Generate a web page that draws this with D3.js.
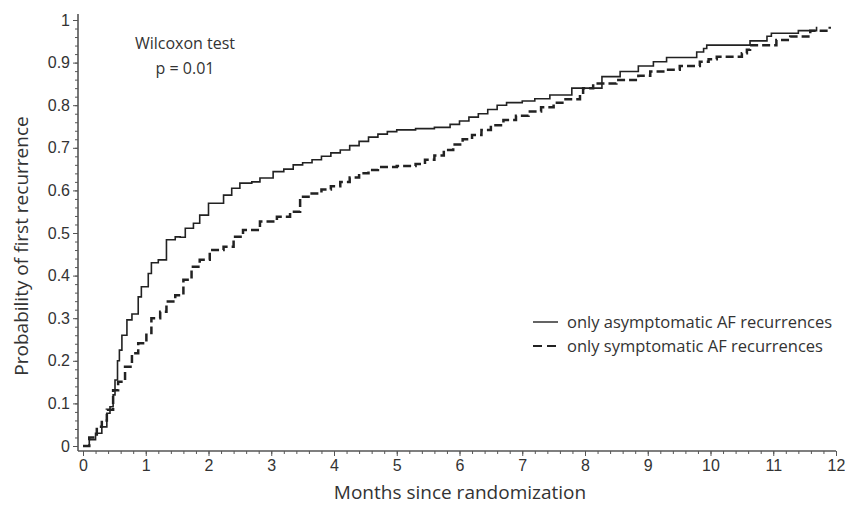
<!DOCTYPE html>
<html>
<head>
<meta charset="utf-8">
<script src="https://cdn.jsdelivr.net/npm/d3@7"></script>
<style>
  body { margin: 0; background: #fff; }
  svg { font-family: "Open Sans", "Noto Sans", sans-serif; }
  .axis text { font-size: 16px; fill: #333; }
  .axis path, .axis line { stroke: #555; }
</style>
</head>
<body>
<svg width="845" height="509"></svg>
<script>
// months since randomization / cumulative probability
var asymMonths = [0, 0.1, 0.2, 0.3, 0.38, 0.43, 0.48, 0.51, 0.55, 0.58, 0.62, 0.7, 0.78, 0.88, 0.93, 1.04, 1.09, 1.2, 1.33, 1.47, 1.55, 1.63, 1.76, 1.86, 2.0, 2.13, 2.24, 2.37, 2.5, 2.69, 2.82, 3.03, 3.2, 3.35, 3.5, 3.65, 3.8, 3.95, 4.1, 4.25, 4.4, 4.55, 4.7, 4.85, 5.0, 5.3, 5.6, 5.85, 6.0, 6.15, 6.3, 6.45, 6.6, 6.75, 7.0, 7.2, 7.44, 7.79, 8.27, 8.56, 8.85, 9.09, 9.3, 9.78, 9.89, 9.94, 10.63, 10.9, 10.97, 11.4, 11.69];
var asymProb   = [0, 0.015, 0.03, 0.045, 0.077, 0.092, 0.12, 0.155, 0.2, 0.225, 0.26, 0.296, 0.31, 0.35, 0.374, 0.405, 0.43, 0.437, 0.484, 0.491, 0.49, 0.511, 0.523, 0.542, 0.57, 0.57, 0.589, 0.605, 0.617, 0.62, 0.629, 0.644, 0.65, 0.66, 0.665, 0.672, 0.68, 0.688, 0.695, 0.705, 0.715, 0.725, 0.732, 0.738, 0.742, 0.745, 0.748, 0.755, 0.763, 0.772, 0.78, 0.79, 0.8, 0.806, 0.81, 0.815, 0.824, 0.84, 0.867, 0.879, 0.892, 0.902, 0.912, 0.925, 0.933, 0.941, 0.951, 0.962, 0.969, 0.975, 0.984];

var symMonths = [0, 0.1, 0.22, 0.3, 0.38, 0.48, 0.56, 0.67, 0.78, 0.88, 1.01, 1.09, 1.23, 1.33, 1.47, 1.6, 1.73, 1.86, 2.02, 2.24, 2.4, 2.55, 2.82, 3.09, 3.3, 3.46, 3.62, 3.8, 3.95, 4.1, 4.25, 4.4, 4.55, 4.7, 5.0, 5.3, 5.45, 5.6, 5.75, 5.9, 6.05, 6.2, 6.35, 6.5, 6.7, 6.9, 7.1, 7.3, 7.5, 7.66, 7.92, 7.97, 8.13, 8.5, 8.85, 9.04, 9.3, 9.51, 9.83, 9.97, 10.1, 10.5, 10.58, 10.63, 11.05, 11.27, 11.59, 11.9];
var symProb   = [0, 0.02, 0.045, 0.06, 0.085, 0.131, 0.151, 0.186, 0.218, 0.241, 0.265, 0.3, 0.315, 0.339, 0.354, 0.39, 0.421, 0.437, 0.46, 0.468, 0.491, 0.507, 0.527, 0.538, 0.55, 0.585, 0.593, 0.602, 0.61, 0.62, 0.63, 0.64, 0.648, 0.655, 0.657, 0.662, 0.672, 0.682, 0.695, 0.708, 0.72, 0.73, 0.742, 0.753, 0.765, 0.775, 0.785, 0.795, 0.806, 0.814, 0.824, 0.84, 0.851, 0.859, 0.869, 0.879, 0.883, 0.892, 0.902, 0.908, 0.914, 0.922, 0.93, 0.941, 0.953, 0.961, 0.975, 0.984];

var xTicks = d3.range(0, 13, 1);
var yTicks = [0, 0.1, 0.2, 0.3, 0.4, 0.5, 0.6, 0.7, 0.8, 0.9, 1];
var legendLabels = ['only asymptomatic AF recurrences', 'only symptomatic AF recurrences'];

var svg = d3.select('svg');

var x = d3.scaleLinear().domain([0, 12]).range([83, 836]),
    y = d3.scaleLinear().domain([0, 1]).range([446, 20]);

var axisY0 = 451, axisX0 = 78;

// minor ticks
svg.append('g')
  .attr('class', 'axis')
  .attr('transform', 'translate(0,' + axisY0 + ')')
  .call(d3.axisBottom(x).tickValues(d3.range(0, 12.01, 0.2)).tickSize(3).tickFormat(''))
  .select('.domain').remove();

svg.append('g')
  .attr('class', 'axis')
  .attr('transform', 'translate(' + axisX0 + ',0)')
  .call(d3.axisLeft(y).tickValues(d3.range(0, 1.001, 0.02)).tickSize(3).tickFormat(''))
  .select('.domain').remove();

// major ticks + labels
var gx = svg.append('g')
  .attr('class', 'axis')
  .attr('transform', 'translate(0,' + axisY0 + ')')
  .call(d3.axisBottom(x).tickValues(xTicks).tickSize(5).tickPadding(4).tickFormat(d3.format('d')));
gx.select('.domain').remove();

var gy = svg.append('g')
  .attr('class', 'axis')
  .attr('transform', 'translate(' + axisX0 + ',0)')
  .call(d3.axisLeft(y).tickValues(yTicks).tickSize(5).tickPadding(3)
    .tickFormat(function(d) { return d === 0 || d === 1 ? d3.format('d')(d) : d3.format('.1f')(d); }));
gy.select('.domain').remove();

// axis lines
svg.append('line')
  .attr('x1', axisX0).attr('x2', x(12))
  .attr('y1', axisY0).attr('y2', axisY0)
  .attr('stroke', '#555').attr('stroke-width', 1.6);
svg.append('line')
  .attr('x1', axisX0).attr('x2', axisX0)
  .attr('y1', axisY0).attr('y2', y(1) - 6)
  .attr('stroke', '#555').attr('stroke-width', 1.6);

// axis titles
svg.append('text')
  .attr('x', 460).attr('y', 499)
  .attr('text-anchor', 'middle')
  .style('font-size', '19px').style('fill', '#333')
  .text('Months since randomization');

svg.append('text')
  .attr('transform', 'translate(28,246) rotate(-90)')
  .attr('text-anchor', 'middle')
  .style('font-size', '19px').style('fill', '#333')
  .text('Probability of first recurrence');

// annotation
svg.append('text')
  .attr('x', 185).attr('y', 49)
  .attr('text-anchor', 'middle')
  .style('font-size', '16px').style('fill', '#333')
  .text('Wilcoxon test');
svg.append('text')
  .attr('x', 185).attr('y', 74)
  .attr('text-anchor', 'middle')
  .style('font-size', '16px').style('fill', '#333')
  .text('p = 0.01');

// curves
var line = d3.line()
  .x(function(d) { return x(d[0]); })
  .y(function(d) { return y(d[1]); })
  .curve(d3.curveStepAfter);

var asym = asymMonths.map(function(m, i) { return [m, asymProb[i]]; });
var sym = symMonths.map(function(m, i) { return [m, symProb[i]]; });

svg.append('path')
  .datum(asym)
  .attr('d', line)
  .attr('fill', 'none')
  .attr('stroke', '#222')
  .attr('stroke-width', 1.6);

svg.append('path')
  .datum(sym)
  .attr('d', line)
  .attr('fill', 'none')
  .attr('stroke', '#222')
  .attr('stroke-width', 2.5)
  .attr('stroke-dasharray', '8,4');

// legend
var legend = svg.append('g').attr('transform', 'translate(533,322)');
legend.append('line')
  .attr('x1', 0).attr('x2', 25).attr('y1', 0).attr('y2', 0)
  .attr('stroke', '#222').attr('stroke-width', 1.4);
legend.append('line')
  .attr('x1', 0).attr('x2', 25).attr('y1', 24).attr('y2', 24)
  .attr('stroke', '#222').attr('stroke-width', 2.2).attr('stroke-dasharray', '9,5');
legend.selectAll('text')
  .data(legendLabels)
  .enter().append('text')
  .attr('x', 34)
  .attr('y', function(d, i) { return i * 24 + 6; })
  .style('font-size', '16.5px').style('fill', '#333')
  .text(function(d) { return d; });
</script>
</body>
</html>
